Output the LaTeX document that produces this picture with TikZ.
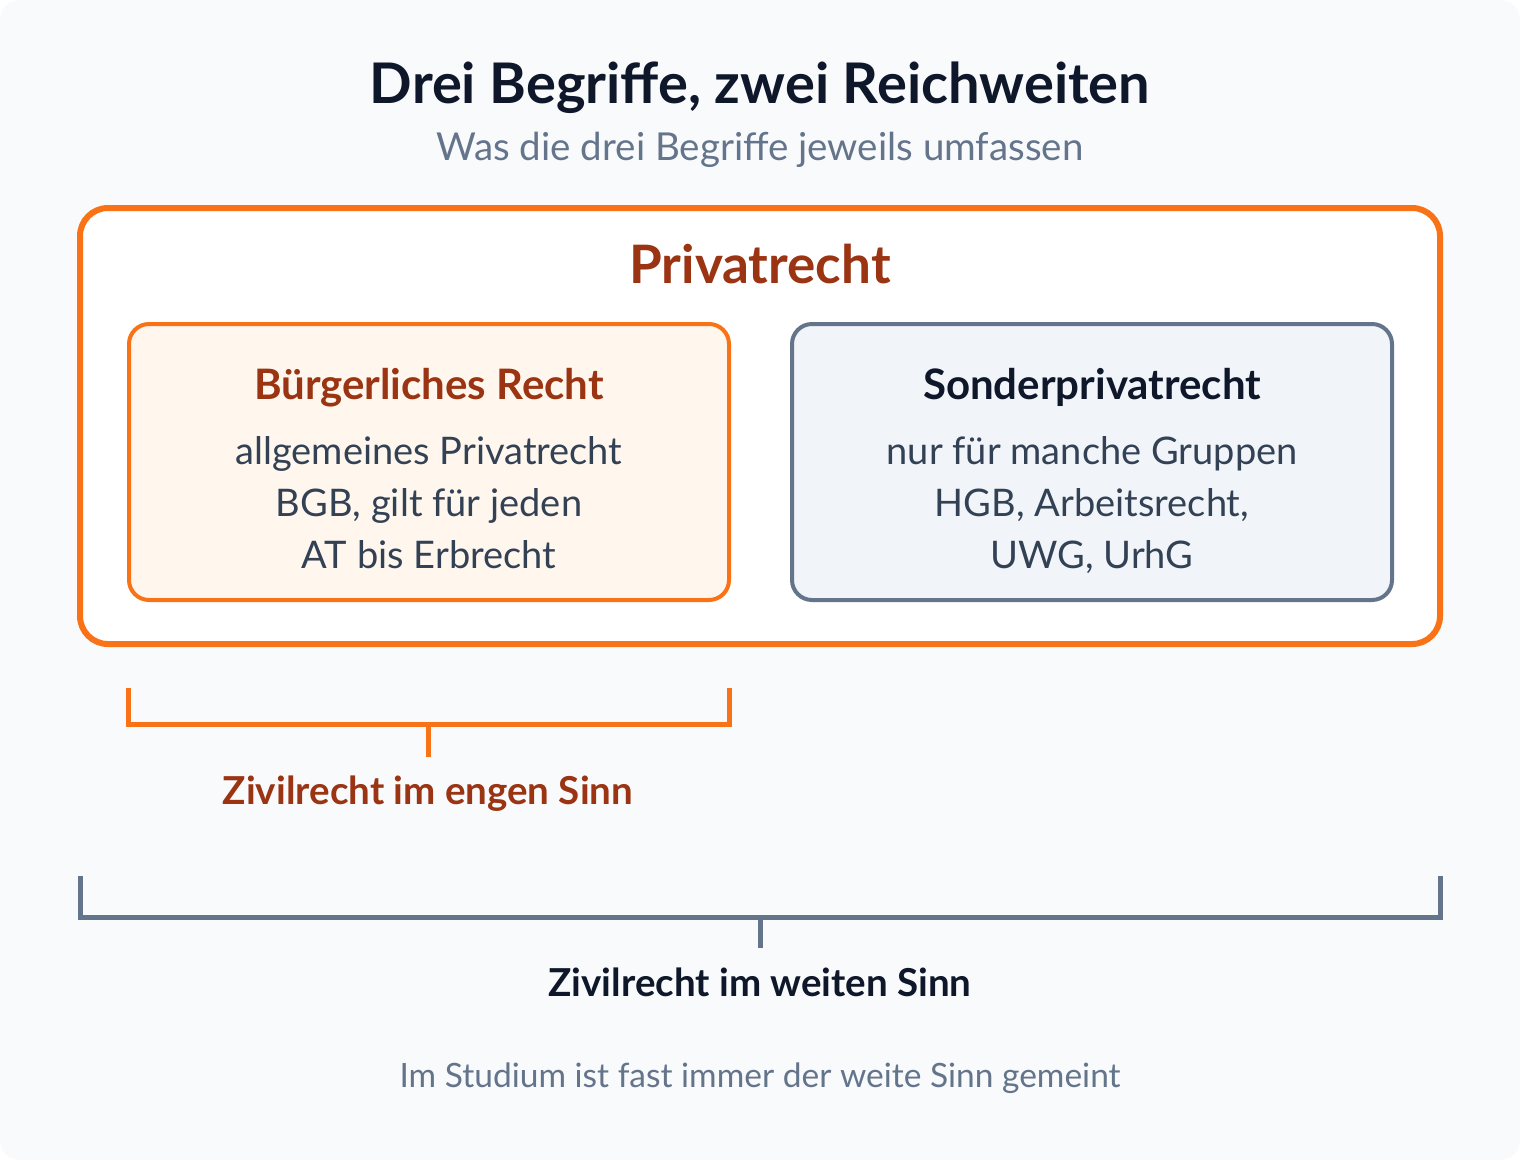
\documentclass[tikz,border=0pt]{standalone}
\usepackage{fontspec}
\setmainfont{Lato}
\usetikzlibrary{positioning}
\definecolor{bgcol}{HTML}{F8FAFC}
\definecolor{orangeline}{HTML}{F97316}
\definecolor{orangetext}{HTML}{9A3412}
\definecolor{orangefill}{HTML}{FFF7ED}
\definecolor{slateline}{HTML}{64748B}
\definecolor{slatefill}{HTML}{F1F5F9}
\definecolor{slatetext}{HTML}{334155}
\definecolor{darktext}{HTML}{0F172A}
\newcommand{\fs}[1]{\fontsize{#1}{1.2\dimexpr#1pt\relax}\selectfont}
\tikzset{
	outerbox/.style={draw=orangeline, line width=6pt, fill=white, rounded corners=28pt},
	innerbox/.style={line width=4pt, rounded corners=20pt},
	bodytext/.style={anchor=base, text=slatetext, font=\fs{38}},
	headtext/.style={anchor=base, font=\bfseries\fs{42}},
	bracketline/.style={line width=5pt},
}
\begin{document}
\begin{tikzpicture}[x=1pt, y=-1pt]
	% Background
	\fill[white] (0,0) rectangle (1520,1160);
	\fill[bgcol, rounded corners=20pt] (0,0) rectangle (1520,1160);
	\useasboundingbox (0,0) rectangle (1520,1160);
	
	% Title
	\node[anchor=base, text=darktext, font=\bfseries\fs{56}] (title) at (760,103) {Drei Begriffe, zwei Reichweiten};
	\node[anchor=base, text=slateline, font=\fs{38.5}] (subtitle) at (760,160) {Was die drei Begriffe jeweils umfassen};
	
	% Privatrecht frame
	\draw[outerbox] (80,208) rectangle (1440,644);
	\node[anchor=base, text=orangetext, font=\bfseries\fs{53}] (privat) at (760,283) {Privatrecht};
	
	% Buergerliches Recht
	\draw[innerbox, draw=orangeline, fill=orangefill] (129,324) rectangle (729,600);
	\node[headtext, text=orangetext] (buerg) at (429,399) {Bürgerliches Recht};
	\node[bodytext] (buerg1) at (429,464.5) {allgemeines Privatrecht};
	\node[bodytext] (buerg2) at (429,516.5) {BGB, gilt für jeden};
	\node[bodytext] (buerg3) at (429,568.5) {AT bis Erbrecht};
	
	% Sonderprivatrecht
	\draw[innerbox, draw=slateline, fill=slatefill] (792,324) rectangle (1392,600);
	\node[headtext, text=darktext] (sonder) at (1092,399) {Sonderprivatrecht};
	\node[bodytext] (sonder1) at (1092,464.5) {nur für manche Gruppen};
	\node[bodytext] (sonder2) at (1092,516.5) {HGB, Arbeitsrecht,};
	\node[bodytext] (sonder3) at (1092,568.5) {UWG, UrhG};
	
	% Bracket: enger Sinn
	\coordinate (engL) at (128,688);
	\coordinate (engR) at (729,688);
	\coordinate (engM) at (428,724);
	\draw[bracketline, orangeline] (engL) |- (engM) -| (engR);
	\draw[bracketline, orangeline] (engM) -- ++(0,33);
	\node[anchor=base, text=orangetext, font=\bfseries\fs{38.5}] (eng) at (428,804) {Zivilrecht im engen Sinn};
	
	% Bracket: weiter Sinn
	\coordinate (weitL) at (80.5,876);
	\coordinate (weitR) at (1440,876);
	\coordinate (weitM) at (760.5,917);
	\draw[bracketline, slateline] (weitL) |- (weitM) -| (weitR);
	\draw[bracketline, slateline] (weitM) -- ++(0,31);
	\node[anchor=base, text=darktext, font=\bfseries\fs{38.5}] (weit) at (760,996) {Zivilrecht im weiten Sinn};
	
	% Note
	\node[anchor=base, text=slateline, font=\fs{33.5}] (note) at (760,1087) {Im Studium ist fast immer der weite Sinn gemeint};
\end{tikzpicture}
\end{document}
